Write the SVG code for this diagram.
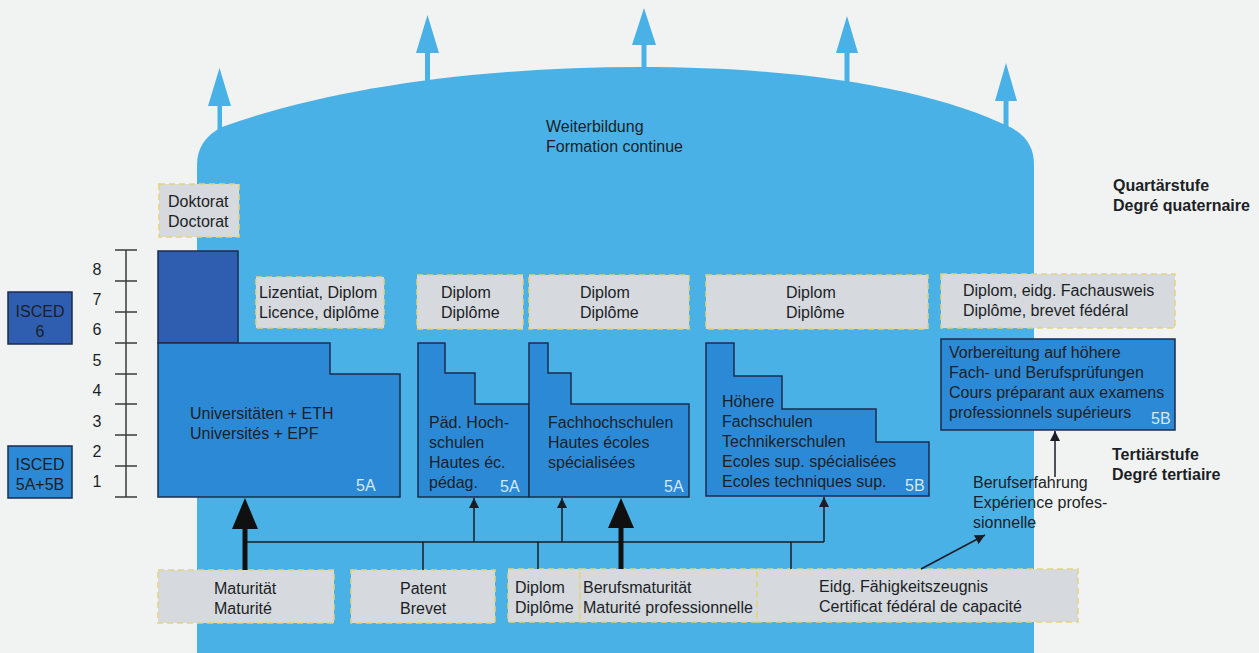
<svg xmlns="http://www.w3.org/2000/svg" width="1259" height="653" viewBox="0 0 1259 653">
<style>
text{font-family:"Liberation Sans",Arial,sans-serif;font-size:16px;fill:#1c1f26}
.b{font-weight:bold}
.lbl{fill:#d4e8f8}
.grey{fill:#d6d9dd;stroke:#e2d47c;stroke-width:1.5;stroke-dasharray:6 4}
.inst{fill:#2c89d5;stroke:#1d2b4e;stroke-width:1.5}
.dark{fill:#2f5eb1;stroke:#1d2b4e;stroke-width:1.5}
.con{stroke:#1a1c26;stroke-width:1.5;fill:none}
.thick{stroke:#101010;stroke-width:5;fill:none}
.tick{stroke:#3a3a3a;stroke-width:1.5}
.up{fill:#4ab1e7}
</style>
<defs>
<marker id="ah" viewBox="0 0 10 10" refX="10" refY="5" markerWidth="10" markerHeight="10" markerUnits="userSpaceOnUse" orient="auto"><path d="M0,0 L10,5 L0,10 Z" fill="#1a1c26"/></marker>
</defs>
<rect width="1259" height="653" fill="#f1f3f2"/>

<g id="cylinder">
<path class="up" d="M197,653 L197,165 C197,148 205,136 222,127 C330,88 480,67 640,67 C800,67 930,88 1012,128 C1027,137 1034,148 1034,165 L1034,653 Z"/>
<path class="up" d="M217.5,135 V106 H208 L219.5,68 L231,106 H222 V135 Z"/>
<path class="up" d="M425,85 V53 H416 L427.5,15 L439,53 H430 V85 Z"/>
<path class="up" d="M641.5,72 V45 H632 L644,8 L656,45 H646.5 V72 Z"/>
<path class="up" d="M844.5,85 V53 H836 L847,16 L858,53 H849.5 V85 Z"/>
<path class="up" d="M1003.5,130 V101 H995 L1006,63 L1017,101 H1008.5 V130 Z"/>
<text x="546" y="132">Weiterbildung</text>
<text x="546" y="152">Formation continue</text>
</g>

<g id="scale">
<line class="tick" x1="126" y1="250" x2="126" y2="497"/>
<line class="tick" x1="115" y1="250" x2="137" y2="250"/>
<line class="tick" x1="115" y1="281" x2="137" y2="281"/>
<line class="tick" x1="115" y1="312" x2="137" y2="312"/>
<line class="tick" x1="115" y1="343" x2="137" y2="343"/>
<line class="tick" x1="115" y1="374" x2="137" y2="374"/>
<line class="tick" x1="115" y1="404" x2="137" y2="404"/>
<line class="tick" x1="115" y1="435" x2="137" y2="435"/>
<line class="tick" x1="115" y1="466" x2="137" y2="466"/>
<line class="tick" x1="115" y1="497" x2="137" y2="497"/>
<text x="97" y="275" text-anchor="middle">8</text>
<text x="97" y="305" text-anchor="middle">7</text>
<text x="97" y="335" text-anchor="middle">6</text>
<text x="97" y="366" text-anchor="middle">5</text>
<text x="97" y="396" text-anchor="middle">4</text>
<text x="97" y="427" text-anchor="middle">3</text>
<text x="97" y="457" text-anchor="middle">2</text>
<text x="97" y="487" text-anchor="middle">1</text>
</g>

<g id="isced6">
<rect class="dark" x="8" y="292" width="64" height="52"/>
<text x="40" y="317" text-anchor="middle">ISCED</text>
<text x="40" y="337" text-anchor="middle">6</text>
</g>
<g id="isced5">
<rect class="inst" x="8" y="446" width="64" height="52"/>
<text x="40" y="470" text-anchor="middle">ISCED</text>
<text x="40" y="490" text-anchor="middle">5A+5B</text>
</g>

<g id="doktorat">
<rect class="grey" x="159" y="184" width="80" height="53"/>
<text x="168" y="207">Doktorat</text>
<text x="168" y="227">Doctorat</text>
</g>
<g id="doktorat-block">
<rect class="dark" x="158" y="251" width="80" height="92"/>
</g>
<g id="universitaeten">
<path class="inst" d="M158,343 H330 V374 H400 V497 H158 Z"/>
<text x="190" y="419">Universitäten + ETH</text>
<text x="190" y="439">Universités + EPF</text>
<text class="lbl" x="356" y="491">5A</text>
</g>
<g id="lizentiat">
<rect class="grey" x="256" y="277" width="128" height="51"/>
<text x="259" y="298">Lizentiat, Diplom</text>
<text x="259" y="318">Licence, diplôme</text>
</g>

<g id="diplom1">
<rect class="grey" x="417" y="275" width="106" height="54"/>
<text x="441" y="298">Diplom</text>
<text x="441" y="318">Diplôme</text>
</g>
<g id="paed">
<path class="inst" d="M418,343 H445 V373 H475 V404 H529 V497 H418 Z"/>
<text x="429" y="428">Päd. Hoch-</text>
<text x="429" y="448">schulen</text>
<text x="429" y="468">Hautes éc.</text>
<text x="429" y="488">pédag.</text>
<text class="lbl" x="500" y="492">5A</text>
</g>

<g id="diplom2">
<rect class="grey" x="529" y="275" width="160" height="54"/>
<text x="580" y="298">Diplom</text>
<text x="580" y="318">Diplôme</text>
</g>
<g id="fachhochschulen">
<path class="inst" d="M529,343 H548 V373 H571 V404 H689 V497 H529 Z"/>
<text x="548" y="428">Fachhochschulen</text>
<text x="548" y="448">Hautes écoles</text>
<text x="548" y="468">spécialisées</text>
<text class="lbl" x="664" y="492">5A</text>
</g>

<g id="diplom3">
<rect class="grey" x="706" y="275" width="222" height="54"/>
<text x="786" y="298">Diplom</text>
<text x="786" y="318">Diplôme</text>
</g>
<g id="hoehere">
<path class="inst" d="M706,343 H734 V376 H782 V409 H876 V442 H929 V496 H706 Z"/>
<text x="722" y="407">Höhere</text>
<text x="722" y="427">Fachschulen</text>
<text x="722" y="447">Technikerschulen</text>
<text x="722" y="467">Ecoles sup. spécialisées</text>
<text x="722" y="487">Ecoles techniques sup.</text>
<text class="lbl" x="905" y="491">5B</text>
</g>

<g id="fachausweis">
<rect class="grey" x="941" y="274" width="234" height="54"/>
<text x="963" y="296">Diplom, eidg. Fachausweis</text>
<text x="963" y="316">Diplôme, brevet fédéral</text>
</g>
<g id="vorbereitung">
<rect class="inst" x="941" y="339" width="234" height="91"/>
<text x="949" y="358">Vorbereitung auf höhere</text>
<text x="949" y="378">Fach- und Berufsprüfungen</text>
<text x="949" y="398">Cours préparant aux examens</text>
<text x="949" y="418">professionnels supérieurs</text>
<text class="lbl" x="1151" y="424">5B</text>
</g>

<g id="quartaer">
<text class="b" x="1113" y="191">Quartärstufe</text>
<text class="b" x="1113" y="211">Degré quaternaire</text>
</g>
<g id="tertiaer">
<text class="b" x="1112" y="460">Tertiärstufe</text>
<text class="b" x="1112" y="480">Degré tertiaire</text>
</g>
<g id="berufserfahrung">
<text x="973" y="488">Berufserfahrung</text>
<text x="973" y="508">Expérience profes-</text>
<text x="973" y="528">sionnelle</text>
</g>

<g id="maturitaet">
<rect class="grey" x="158" y="570" width="176" height="53"/>
<text x="214" y="594">Maturität</text>
<text x="214" y="614">Maturité</text>
</g>
<g id="patent">
<rect class="grey" x="351" y="570" width="144" height="53"/>
<text x="400" y="594">Patent</text>
<text x="400" y="614">Brevet</text>
</g>
<g id="diplom-bottom">
<rect class="grey" x="508" y="569" width="72" height="53"/>
<text x="515" y="593">Diplom</text>
<text x="515" y="613">Diplôme</text>
</g>
<g id="berufsmaturitaet">
<rect class="grey" x="580" y="569" width="177" height="53"/>
<text x="583" y="593">Berufsmaturität</text>
<text x="583" y="613">Maturité professionnelle</text>
</g>
<g id="eidg">
<rect class="grey" x="757" y="569" width="321" height="53"/>
<text x="819" y="592">Eidg. Fähigkeitszeugnis</text>
<text x="819" y="612">Certificat fédéral de capacité</text>
</g>

<g id="connectors">
<line class="con" x1="245" y1="542" x2="824" y2="542"/>
<line class="con" x1="423" y1="542" x2="423" y2="570"/>
<line class="con" x1="538" y1="542" x2="538" y2="569"/>
<line class="con" x1="791" y1="542" x2="791" y2="569"/>
<line class="con" x1="474" y1="542" x2="474" y2="498" marker-end="url(#ah)"/>
<line class="con" x1="562" y1="542" x2="562" y2="498" marker-end="url(#ah)"/>
<line class="con" x1="824" y1="542" x2="824" y2="497" marker-end="url(#ah)"/>
<line class="thick" x1="245" y1="570" x2="245" y2="525"/>
<path d="M232,529 L245,498 L258,529 Z" fill="#101010"/>
<line class="thick" x1="621" y1="569" x2="621" y2="524"/>
<path d="M608,528 L621,498 L634,528 Z" fill="#101010"/>
<line class="con" x1="1055" y1="477" x2="1055" y2="431" marker-end="url(#ah)"/>
<line class="con" x1="921" y1="569" x2="985" y2="535" marker-end="url(#ah)"/>
</g>
</svg>
